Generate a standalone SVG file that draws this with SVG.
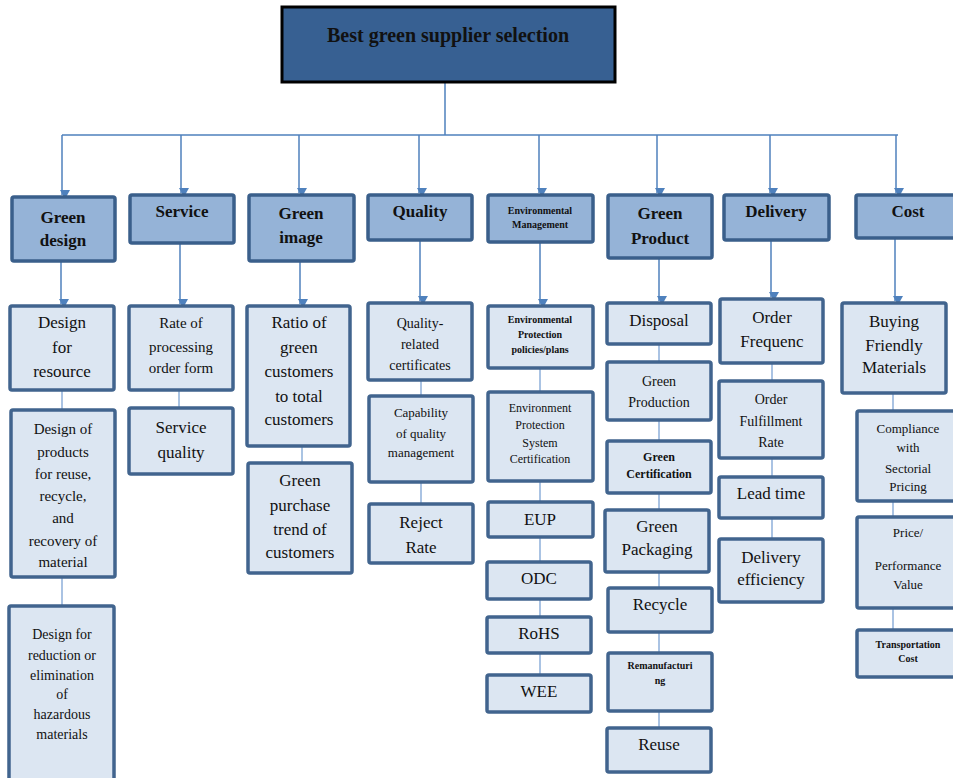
<svg xmlns="http://www.w3.org/2000/svg" width="953" height="778" viewBox="0 0 953 778" font-family="'Liberation Serif', 'Times New Roman', 'DejaVu Serif', serif">
<defs>
<marker id="arr" markerWidth="10" markerHeight="10" refX="5" refY="8" orient="auto" markerUnits="userSpaceOnUse" viewBox="0 0 10 10">
<path d="M0,0 L10,0 L5,9 Z" fill="#4F81BD" transform="rotate(-90 5 5)"/>
</marker>
<style>
text{font-family:'Liberation Serif','Times New Roman','DejaVu Serif',serif;fill:#111;text-anchor:middle}
.top{fill:#376092;stroke:#000;stroke-width:3}
.cat{fill:#95B3D7;stroke:#3A5F8B;stroke-width:3.5}
.leaf{fill:#DCE6F2;stroke:#41648E;stroke-width:3.5}
.b{font-weight:bold}
.a{stroke:#4F81BD;stroke-width:1.5;fill:none}
.l{stroke:#8EB0DA;stroke-width:1.5;fill:none}
.s17{font-size:17px}.s15{font-size:15px}.s14{font-size:14px}.s13{font-size:13px}.s12{font-size:12px}.s10{font-size:10px}
</style>
</defs>
<rect width="953" height="778" fill="#fff"/>

<g id="connectors">
<path class="a" d="M445,82 V135 M62,135 H898"/>
<path class="a" marker-end="url(#arr)" d="M62,135 V195"/>
<path class="a" marker-end="url(#arr)" d="M181,135 V193"/>
<path class="a" marker-end="url(#arr)" d="M299,135 V193"/>
<path class="a" marker-end="url(#arr)" d="M419,135 V193"/>
<path class="a" marker-end="url(#arr)" d="M539,135 V193"/>
<path class="a" marker-end="url(#arr)" d="M657,135 V193"/>
<path class="a" marker-end="url(#arr)" d="M770,135 V193"/>
<path class="a" marker-end="url(#arr)" d="M896,135 V193"/>
<path class="a" marker-end="url(#arr)" d="M61,261 V304"/>
<path class="a" marker-end="url(#arr)" d="M180,243 V304"/>
<path class="a" marker-end="url(#arr)" d="M300,261 V304"/>
<path class="a" marker-end="url(#arr)" d="M420,240 V301"/>
<path class="a" marker-end="url(#arr)" d="M540,242 V304"/>
<path class="a" marker-end="url(#arr)" d="M659,258 V301"/>
<path class="a" marker-end="url(#arr)" d="M771,240 V297"/>
<path class="a" marker-end="url(#arr)" d="M895,238 V301"/>
<path class="l" d="M62,390 V410 M62,577 V606"/>
<path class="l" d="M179,390 V408"/>
<path class="l" d="M302,446 V463"/>
<path class="l" d="M421,380 V396 M421,482 V504"/>
<path class="l" d="M540,368 V392 M540,481 V502 M540,537 V562 M540,599 V617 M540,653 V675"/>
<path class="l" d="M659,344 V362 M659,420 V441 M659,493 V510 M659,572 V588 M659,632 V653 M659,711 V728"/>
<path class="l" d="M772,363 V381 M772,458 V477 M772,518 V539"/>
<path class="l" d="M893,393 V411 M893,501 V517 M893,608 V630"/>
</g>

<g id="root">
<rect class="top" x="282" y="7" width="333" height="75"/>
<text class="b" x="448" y="42" font-size="20">Best green supplier selection</text>
</g>

<g id="green-design"><rect class="cat" x="12" y="197" width="103" height="64" rx="2"/>
<text class="b s17" x="63" y="223">Green</text><text class="b s17" x="63" y="246">design</text></g>
<g id="service"><rect class="cat" x="130" y="195" width="104" height="48" rx="2"/>
<text class="b s17" x="182" y="217">Service</text></g>
<g id="green-image"><rect class="cat" x="249" y="195" width="105" height="66" rx="2"/>
<text class="b s17" x="301" y="219">Green</text><text class="b s17" x="301" y="243">image</text></g>
<g id="quality"><rect class="cat" x="368" y="195" width="104" height="45" rx="2"/>
<text class="b s17" x="420" y="217">Quality</text></g>
<g id="env-mgmt"><rect class="cat" x="488" y="195" width="105" height="47" rx="2"/>
<text class="b s10" x="540" y="214">Environmental</text><text class="b s10" x="540" y="228">Management</text></g>
<g id="green-product"><rect class="cat" x="608" y="195" width="104" height="63" rx="2"/>
<text class="b s17" x="660" y="219">Green</text><text class="b s17" x="660" y="244">Product</text></g>
<g id="delivery"><rect class="cat" x="724" y="195" width="105" height="45" rx="2"/>
<text class="b s17" x="776" y="217">Delivery</text></g>
<g id="cost"><rect class="cat" x="856" y="195" width="105" height="43" rx="2"/>
<text class="b s17" x="908" y="217">Cost</text></g>

<g id="design-for-resource"><rect class="leaf" x="10" y="306" width="104" height="84" rx="2"/>
<text class="s17" x="62" y="328">Design</text><text class="s17" x="62" y="353">for</text><text class="s17" x="62" y="377">resource</text></g>
<g id="design-of-products"><rect class="leaf" x="11" y="410" width="104" height="167" rx="2"/>
<text class="s15" x="63" y="434">Design of</text><text class="s15" x="63" y="457">products</text><text class="s15" x="63" y="479">for reuse,</text><text class="s15" x="63" y="501">recycle,</text><text class="s15" x="63" y="523">and</text><text class="s15" x="63" y="546">recovery of</text><text class="s15" x="63" y="567">material</text></g>
<g id="design-for-reduction"><rect class="leaf" x="9" y="606" width="105" height="174" rx="2"/>
<text class="s14" x="62" y="639">Design for</text><text class="s14" x="62" y="660">reduction or</text><text class="s14" x="62" y="680">elimination</text><text class="s14" x="62" y="699">of</text><text class="s14" x="62" y="719">hazardous</text><text class="s14" x="62" y="739">materials</text></g>

<g id="rate-of-processing"><rect class="leaf" x="129" y="306" width="104" height="84" rx="2"/>
<text class="s15" x="181" y="328">Rate of</text><text class="s15" x="181" y="352">processing</text><text class="s15" x="181" y="373">order form</text></g>
<g id="service-quality"><rect class="leaf" x="129" y="408" width="104" height="66" rx="2"/>
<text class="s17" x="181" y="433">Service</text><text class="s17" x="181" y="458">quality</text></g>

<g id="ratio-green-customers"><rect class="leaf" x="247" y="306" width="103" height="140" rx="2"/>
<text class="s17" x="299" y="328">Ratio of</text><text class="s17" x="299" y="353">green</text><text class="s17" x="299" y="377">customers</text><text class="s17" x="299" y="402">to total</text><text class="s17" x="299" y="425">customers</text></g>
<g id="green-purchase-trend"><rect class="leaf" x="248" y="463" width="104" height="110" rx="2"/>
<text class="s17" x="300" y="486">Green</text><text class="s17" x="300" y="511">purchase</text><text class="s17" x="300" y="535">trend of</text><text class="s17" x="300" y="558">customers</text></g>

<g id="quality-certificates"><rect class="leaf" x="368" y="303" width="104" height="77" rx="2"/>
<text class="s14" x="420" y="328">Quality-</text><text class="s14" x="420" y="349">related</text><text class="s14" x="420" y="370">certificates</text></g>
<g id="capability-quality"><rect class="leaf" x="369" y="396" width="104" height="86" rx="2"/>
<text class="s13" x="421" y="417">Capability</text><text class="s13" x="421" y="438">of quality</text><text class="s13" x="421" y="457">management</text></g>
<g id="reject-rate"><rect class="leaf" x="369" y="504" width="104" height="59" rx="2"/>
<text class="s17" x="421" y="528">Reject</text><text class="s17" x="421" y="553">Rate</text></g>

<g id="env-policies"><rect class="leaf" x="488" y="306" width="105" height="62" rx="2"/>
<text class="b s10" x="540" y="323">Environmental</text><text class="b s10" x="540" y="338">Protection</text><text class="b s10" x="540" y="353">policies/plans</text></g>
<g id="env-certification"><rect class="leaf" x="488" y="392" width="105" height="89" rx="2"/>
<text class="s12" x="540" y="412">Environment</text><text class="s12" x="540" y="429">Protection</text><text class="s12" x="540" y="447">System</text><text class="s12" x="540" y="463">Certification</text></g>
<g id="eup"><rect class="leaf" x="488" y="502" width="105" height="35" rx="2"/>
<text class="s17" x="540" y="525">EUP</text></g>
<g id="odc"><rect class="leaf" x="487" y="562" width="104" height="37" rx="2"/>
<text class="s17" x="539" y="584">ODC</text></g>
<g id="rohs"><rect class="leaf" x="487" y="617" width="104" height="36" rx="2"/>
<text class="s17" x="539" y="639">RoHS</text></g>
<g id="wee"><rect class="leaf" x="487" y="675" width="104" height="37" rx="2"/>
<text class="s17" x="539" y="697">WEE</text></g>

<g id="disposal"><rect class="leaf" x="607" y="303" width="104" height="41" rx="2"/>
<text class="s17" x="659" y="326">Disposal</text></g>
<g id="green-production"><rect class="leaf" x="607" y="362" width="104" height="58" rx="2"/>
<text class="s14" x="659" y="386">Green</text><text class="s14" x="659" y="407">Production</text></g>
<g id="green-certification"><rect class="leaf" x="607" y="441" width="104" height="52" rx="2"/>
<text class="b s12" x="659" y="461">Green</text><text class="b s12" x="659" y="478">Certification</text></g>
<g id="green-packaging"><rect class="leaf" x="605" y="510" width="104" height="62" rx="2"/>
<text class="s17" x="657" y="532">Green</text><text class="s17" x="657" y="555">Packaging</text></g>
<g id="recycle"><rect class="leaf" x="608" y="588" width="104" height="44" rx="2"/>
<text class="s17" x="660" y="610">Recycle</text></g>
<g id="remanufacturing"><rect class="leaf" x="608" y="653" width="104" height="58" rx="2"/>
<text class="b s10" x="660" y="669">Remanufacturi</text><text class="b s10" x="660" y="684">ng</text></g>
<g id="reuse"><rect class="leaf" x="607" y="728" width="104" height="44" rx="2"/>
<text class="s17" x="659" y="750">Reuse</text></g>

<g id="order-frequenc"><rect class="leaf" x="720" y="299" width="103" height="64" rx="2"/>
<text class="s17" x="772" y="323">Order</text><text class="s17" x="772" y="347">Frequenc</text></g>
<g id="order-fulfillment"><rect class="leaf" x="719" y="381" width="104" height="77" rx="2"/>
<text class="s14" x="771" y="404">Order</text><text class="s14" x="771" y="426">Fulfillment</text><text class="s14" x="771" y="447">Rate</text></g>
<g id="lead-time"><rect class="leaf" x="719" y="477" width="104" height="41" rx="2"/>
<text class="s17" x="771" y="499">Lead time</text></g>
<g id="delivery-efficiency"><rect class="leaf" x="719" y="539" width="104" height="63" rx="2"/>
<text class="s17" x="771" y="563">Delivery</text><text class="s17" x="771" y="585">efficiency</text></g>

<g id="buying-friendly"><rect class="leaf" x="842" y="303" width="104" height="90" rx="2"/>
<text class="s17" x="894" y="327">Buying</text><text class="s17" x="894" y="351">Friendly</text><text class="s17" x="894" y="373">Materials</text></g>
<g id="compliance"><rect class="leaf" x="857" y="411" width="104" height="90" rx="2"/>
<text class="s13" x="908" y="433">Compliance</text><text class="s13" x="908" y="452">with</text><text class="s13" x="908" y="473">Sectorial</text><text class="s13" x="908" y="491">Pricing</text></g>
<g id="price-performance"><rect class="leaf" x="857" y="517" width="104" height="91" rx="2"/>
<text class="s13" x="908" y="537">Price/</text><text class="s13" x="908" y="570">Performance</text><text class="s13" x="908" y="589">Value</text></g>
<g id="transportation-cost"><rect class="leaf" x="857" y="630" width="104" height="47" rx="2"/>
<text class="b s10" x="908" y="648">Transportation</text><text class="b s10" x="908" y="662">Cost</text></g>
</svg>
